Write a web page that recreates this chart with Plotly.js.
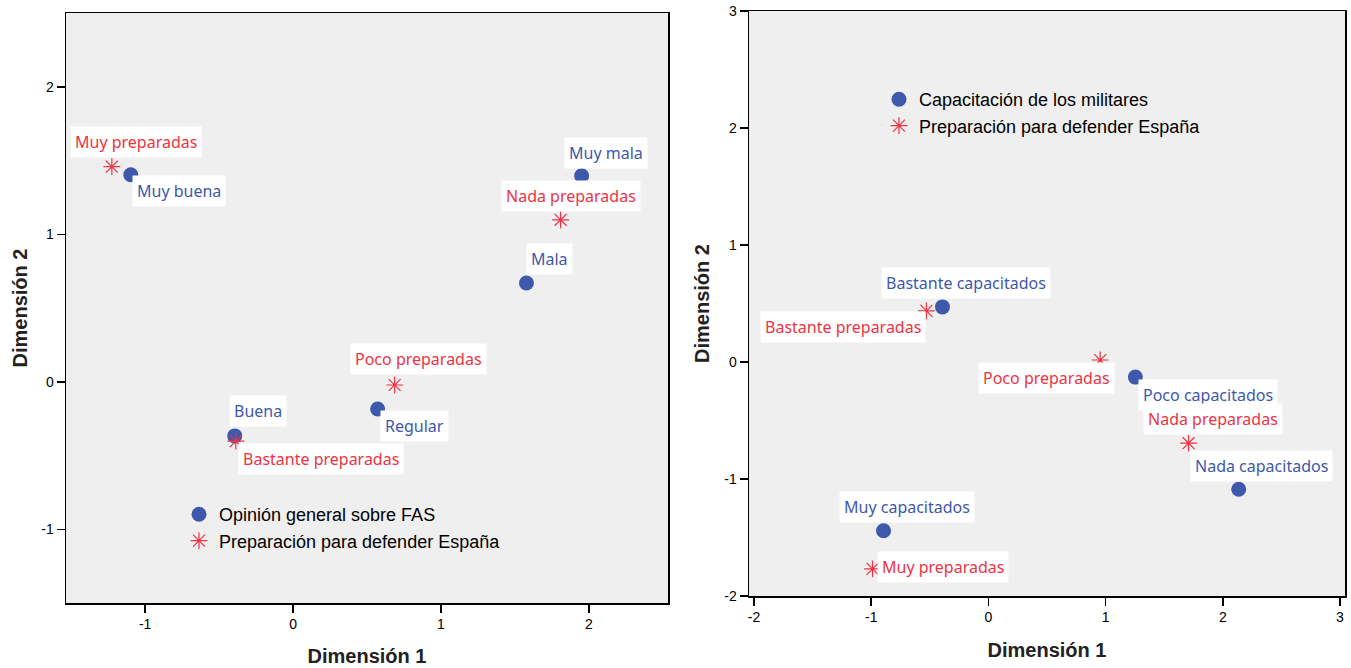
<!DOCTYPE html>
<html><head><meta charset="utf-8">
<script src="https://cdn.plot.ly/plotly-3.0.1.min.js"></script>
<style>html,body{margin:0;padding:0;background:#fff}#chart{width:1351px;height:668px}</style>
</head><body><div id="chart"></div>
<script>
// ---- Data: left panel ----
const opinionName = 'Opinión general sobre FAS';
const opinionLabels = ['Muy buena', 'Buena', 'Regular', 'Mala', 'Muy mala'];
const opinionDim1 = [-1.097, -0.394, 0.572, 1.578, 1.951];
const opinionDim2 = [1.403, -0.367, -0.185, 0.670, 1.397];

const prepName = 'Preparación para defender España';
const prepLabels = ['Muy preparadas', 'Bastante preparadas', 'Poco preparadas', 'Nada preparadas'];
const prepDim1Left = [-1.225, -0.387, 0.687, 1.809];
const prepDim2Left = [1.458, -0.403, -0.022, 1.098];

// ---- Data: right panel ----
const capName = 'Capacitación de los militares';
const capLabels = ['Muy capacitados', 'Bastante capacitados', 'Poco capacitados', 'Nada capacitados'];
const capDim1 = [-0.895, -0.392, 1.254, 2.136];
const capDim2 = [-1.442, 0.471, -0.129, -1.088];
const prepDim1Right = [-0.989, -0.529, 0.954, 1.708];
const prepDim2Right = [-1.768, 0.437, 0.017, -0.694];

const tickVals = [-2, -1, 0, 1, 2, 3];
const tickText = ['-2', '-1', '0', '1', '2', '3'];
const axisTitle1 = 'Dimensión 1';
const axisTitle2 = 'Dimensión 2';

// ---- Styles ----
const BLUE = '#3E58AC';
const RED = '#EE3342';
// label offsets in px [dx, dy(down positive)]
const opinionOff = [[48, 16], [23, -25], [37, 17], [23, -24], [24, -23]];
const prepLeftOff = [[24, -25], [85, 18], [24, -26], [10, -24]];
const capOff = [[23, -24], [24, -24], [73, 18], [23, -23]];
const prepRightOff = [[70, -2], [-83, 16], [-54, 18], [24, -24]];

const circleMarker = {symbol: 'circle', size: 15, color: BLUE, line: {width: 0}};
const starMarker = {symbol: 'asterisk-open', size: 14, color: RED, line: {color: RED, width: 1.2}};

const traces = [
  {type: 'scatter', mode: 'markers', name: opinionName, x: opinionDim1, y: opinionDim2,
   xaxis: 'x', yaxis: 'y', marker: circleMarker, legend: 'legend', hoverinfo: 'text', text: opinionLabels},
  {type: 'scatter', mode: 'markers', name: prepName, x: prepDim1Left, y: prepDim2Left,
   xaxis: 'x', yaxis: 'y', marker: starMarker, legend: 'legend', hoverinfo: 'text', text: prepLabels},
  {type: 'scatter', mode: 'markers', name: capName, x: capDim1, y: capDim2,
   xaxis: 'x2', yaxis: 'y2', marker: circleMarker, legend: 'legend2', hoverinfo: 'text', text: capLabels},
  {type: 'scatter', mode: 'markers', name: prepName, x: prepDim1Right, y: prepDim2Right,
   xaxis: 'x2', yaxis: 'y2', marker: starMarker, legend: 'legend2', hoverinfo: 'text', text: prepLabels}
];

const annotations = [];
function addLabels(labels, xs, ys, offs, color, xr, yr) {
  labels.forEach((t, i) => {
    annotations.push({
      text: t, x: xs[i], y: ys[i], xref: xr, yref: yr, showarrow: false,
      xshift: offs[i][0], yshift: -offs[i][1],
      bgcolor: '#ffffff', borderpad: 4,
      font: {family: 'Noto Sans, sans-serif', size: 16, color: color}
    });
  });
}
addLabels(opinionLabels, opinionDim1, opinionDim2, opinionOff, BLUE, 'x', 'y');
addLabels(prepLabels, prepDim1Left, prepDim2Left, prepLeftOff, RED, 'x', 'y');
addLabels(capLabels, capDim1, capDim2, capOff, BLUE, 'x2', 'y2');
addLabels(prepLabels, prepDim1Right, prepDim2Right, prepRightOff, RED, 'x2', 'y2');

const W = 1351, H = 668;
const axisCommon = {
  showgrid: false, zeroline: false, showline: true, linecolor: '#000', linewidth: 1.5,
  mirror: true, ticks: 'outside', ticklen: 8, tickwidth: 1.5, tickcolor: '#000',
  tickfont: {family: 'Liberation Sans, Arial, sans-serif', size: 14, color: '#000'},
  tickmode: 'array', tickvals: tickVals, ticktext: tickText, fixedrange: true
};
const titleFont = {family: 'Liberation Sans, Arial, sans-serif', size: 20, color: '#222', weight: 'bold'};
const legendFont = {family: 'Liberation Sans, Arial, sans-serif', size: 18, color: '#000'};

const layout = {
  width: W, height: H, margin: {l: 0, r: 0, t: 0, b: 0},
  paper_bgcolor: '#ffffff', plot_bgcolor: '#EFEFEF',
  showlegend: true,
  xaxis: Object.assign({}, axisCommon, {domain: [66 / W, 668 / W], range: [-1.535, 2.535], anchor: 'y',
    title: {text: axisTitle1, font: titleFont, standoff: 17}}),
  yaxis: Object.assign({}, axisCommon, {domain: [(H - 603) / H, (H - 13) / H], range: [-1.5, 2.5], anchor: 'x',
    title: {text: axisTitle2, font: titleFont, standoff: 8}}),
  xaxis2: Object.assign({}, axisCommon, {domain: [749 / W, 1345 / W], range: [-2.043, 3.043], anchor: 'y2',
    title: {text: axisTitle1, font: titleFont, standoff: 18}}),
  yaxis2: Object.assign({}, axisCommon, {domain: [(H - 596) / H, (H - 11) / H], range: [-2, 3], anchor: 'x2',
    title: {text: axisTitle2, font: titleFont, standoff: 9}}),
  legend: {x: 179 / W, y: 1 - 496 / H, xanchor: 'left', yanchor: 'top', bgcolor: 'rgba(0,0,0,0)',
    font: legendFont, tracegroupgap: 0},
  legend2: {x: 879 / W, y: 1 - 81 / H, xanchor: 'left', yanchor: 'top', bgcolor: 'rgba(0,0,0,0)',
    font: legendFont, tracegroupgap: 0},
  annotations: annotations
};

Plotly.newPlot('chart', traces, layout, {displayModeBar: false, staticPlot: true});
</script></body></html>
